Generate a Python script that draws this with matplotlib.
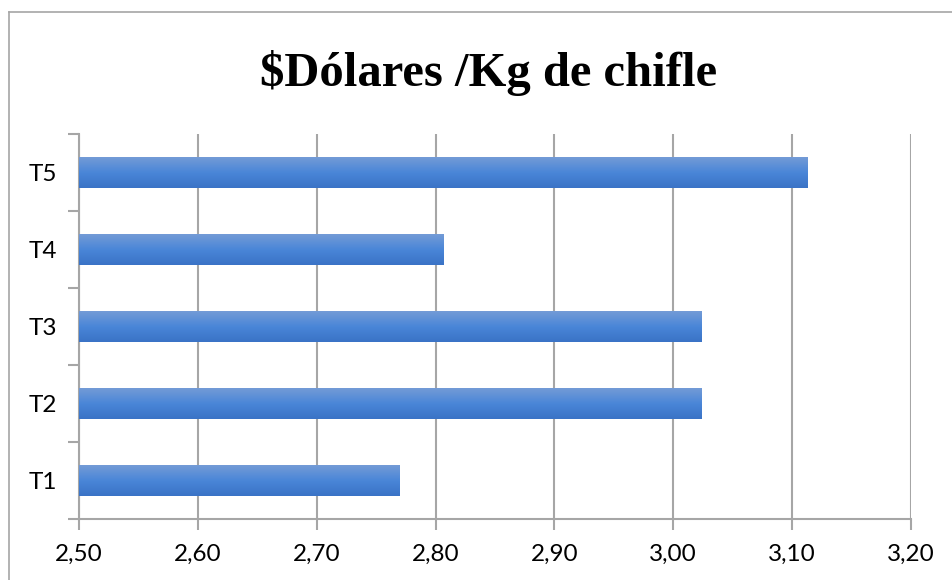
import numpy as np
import matplotlib.pyplot as plt
from matplotlib.colors import LinearSegmentedColormap
from matplotlib.lines import Line2D

categories = ["T1", "T2", "T3", "T4", "T5"]
values = [2.77, 3.024, 3.024, 2.807, 3.113]
x_ticks = [2.50, 2.60, 2.70, 2.80, 2.90, 3.00, 3.10, 3.20]
title = "$Dólares /Kg de chifle"

fig = plt.figure(figsize=(9.53, 5.80), dpi=100)
ax = fig.add_axes([79 / 953, 61 / 580, 832 / 953, 385 / 580])

# outer chart frame (only top and left visible in the reference)
fig.add_artist(Line2D([9 / 953, 9 / 953], [0, 1 - 12 / 580], color="#a6a6a6", lw=1.2))
fig.add_artist(Line2D([9 / 953, 1], [1 - 12 / 580, 1 - 12 / 580], color="#a6a6a6", lw=1.2))

y = np.arange(len(categories))
bar_h = 0.4
bars = ax.barh(y, [v - x_ticks[0] for v in values], left=x_ticks[0], height=bar_h, color="none")

# vertical gradient fill, lighter on top
cmap = LinearSegmentedColormap.from_list("bar", ["#3a73c6", "#4a86d8", "#739bd6"])
grad = np.linspace(0, 1, 64).reshape(-1, 1)
for b in bars:
    x0, y0 = b.get_x(), b.get_y()
    ax.imshow(grad, cmap=cmap, origin="lower", aspect="auto",
              extent=[x0, x0 + b.get_width(), y0, y0 + b.get_height()], zorder=3)

ax.set_xlim(x_ticks[0], x_ticks[-1])
ax.set_ylim(-0.5, len(categories) - 0.5)
ax.set_xticks(x_ticks)
ax.set_xticklabels([f"{t:.2f}".replace(".", ",") for t in x_ticks], fontsize=17.5, family="Lato")
ax.grid(axis="x", color="#a6a6a6", lw=1.5)
ax.set_axisbelow(True)

# y ticks at category boundaries, labels at centres
ax.set_yticks(np.arange(-0.5, len(categories), 1.0))
ax.set_yticklabels([])
ax.set_yticks(y, minor=True)
ax.set_yticklabels(categories, minor=True, fontsize=17.5, family="Lato")
ax.tick_params(axis="y", which="minor", length=0, pad=16)
ax.tick_params(axis="y", which="major", length=8, color="#a6a6a6", width=1.5)
ax.tick_params(axis="x", length=8, color="#a6a6a6", width=1.5, pad=10)

for s in ["top", "right"]:
    ax.spines[s].set_visible(False)
for s in ["left", "bottom"]:
    ax.spines[s].set_color("#a6a6a6")
    ax.spines[s].set_linewidth(1.5)

fig.text(489 / 953, 1 - 73 / 580, title, ha="center", va="center",
         fontsize=35, fontweight="bold", family="Liberation Serif")

fig.savefig("out.png", dpi=100)
